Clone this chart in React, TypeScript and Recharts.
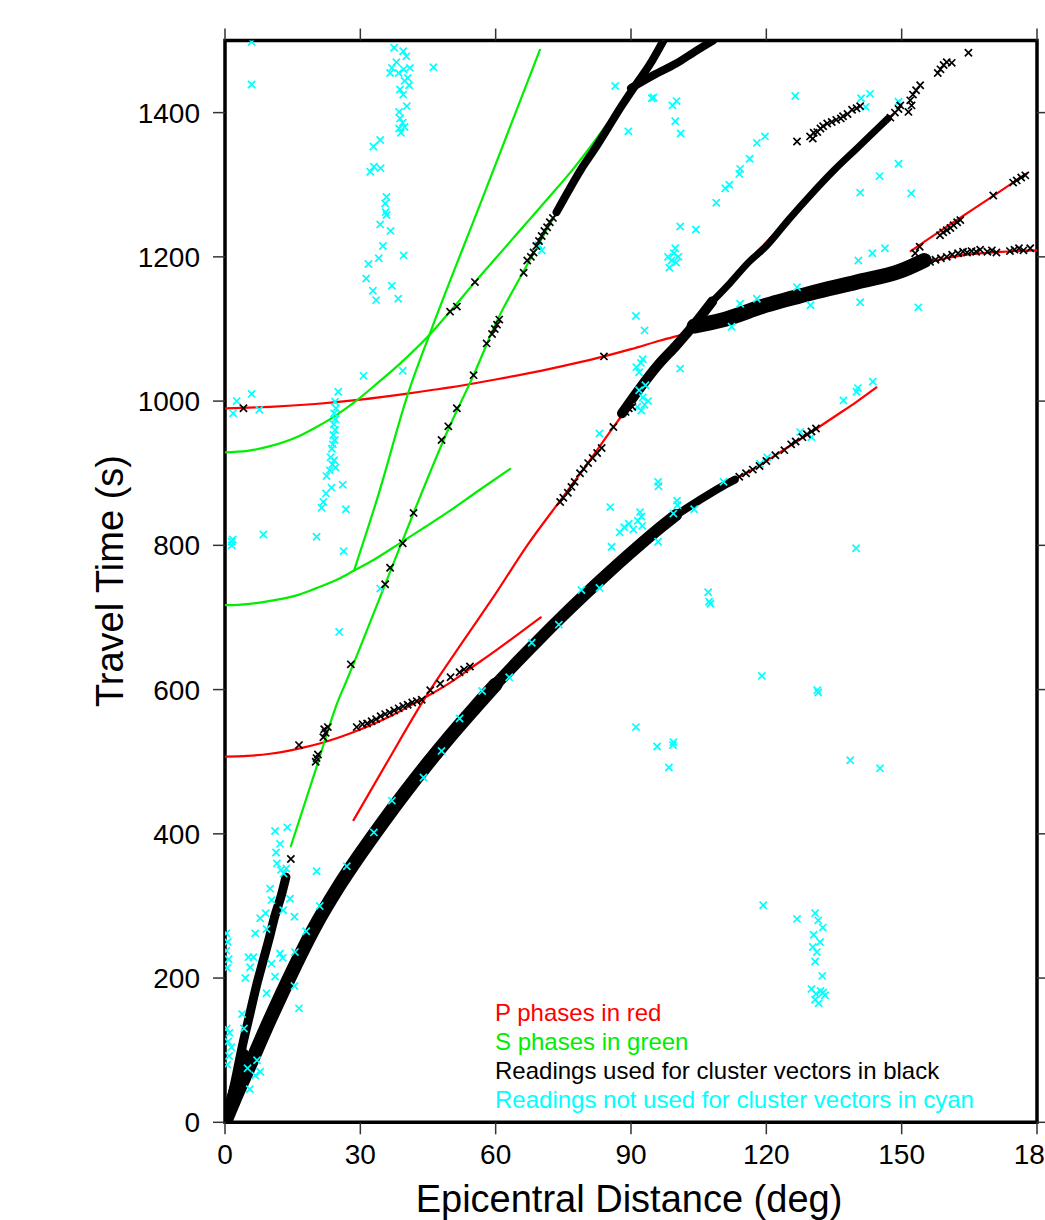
import React from 'react';
import { ComposedChart, XAxis, YAxis, Line, Scatter, ReferenceArea } from 'recharts';

// ---------- axis ticks ----------
const xMajor = [0, 30, 60, 90, 120, 150, 180];
const xMinor = [10, 20, 40, 50, 70, 80, 100, 110, 130, 140, 160, 170];
const yMajor = [0, 200, 400, 600, 800, 1000, 1200, 1400];
const yMinor = [100, 300, 500, 700, 900, 1100, 1300, 1500];

// ---------- P phases (red) ----------
const pDirect: [number, number][] = [[0,0],[10,143],[20,272],[30,372],[40,458],[50,536],[60,607],[70,672],[80,733],[90,790],[100,843],[110,881],[118,909],[125,937],[130,957],[135,978],[140,999],[144.4,1019]];
const pcp: [number, number][] = [[0,507],[5,508],[10,511],[16.6,518.5],[22,527],[27.7,539],[35,558],[43.2,585],[50,610],[55,632],[60,654],[65,677],[70,700]];
const pp: [number, number][] = [[28.5,419],[36,500],[44,585],[52,660],[60,733],[67,800],[74.3,862],[78.7,899],[86.1,964],[94,1030],[102.4,1094],[108.3,1140],[115,1187],[123,1240],[130,1287],[138,1340],[143,1370],[148.5,1400]];
const pkikp: [number, number][] = [[0,990],[10,992],[20,996],[30,1002],[40,1010],[45.5,1015],[50,1019],[60,1030],[70,1042],[78.7,1054],[84,1062],[90,1072],[96.5,1084],[102.4,1094],[110,1108],[120,1130],[130,1149],[140,1166],[150,1181],[156.3,1193],[164.4,1203],[172,1207],[180,1209]];
const pkpab: [number, number][] = [[152,1208],[154.1,1217],[161.5,1248],[170.4,1285],[177.8,1316]];

// ---------- S phases (green) ----------
const sDirect: [number, number][] = [[14.6,383],[20,487],[25.1,585],[27,613],[35.5,746],[42,848],[49.5,961],[55.1,1036],[60.2,1110],[66.1,1179],[75,1278],[83.9,1371],[90.5,1433],[97.2,1500]];
const scs: [number, number][] = [[0,929],[5,931],[10,937.5],[16.6,952],[20,963],[23.3,975],[29.2,1001],[34,1026],[38.8,1052],[45.5,1093],[50,1125],[55.4,1165],[60,1198],[66,1241],[72,1284],[77.2,1322],[84,1378],[90.5,1436]];
const sLow: [number, number][] = [[0,717],[5,718.5],[10,723],[16.6,732],[20,740],[25,753],[28.6,765],[33,780],[38.8,803],[44,824],[49.4,846],[56,875],[63.2,906]];
const sSteep: [number, number][] = [[28.6,765],[34,870],[40.6,1011],[45.5,1095],[57,1280],[69.8,1487]];

// ---------- dense bands of readings used (black) ----------
const bandP1: [number, number][] = [[0,0],[2,30],[5,72],[10,143],[15,210],[20,272],[25,325],[30,372],[35,416],[40,458],[45,498],[50,536],[55,572],[60,607]];
const bandP2: [number, number][] = [[60,607],[65,640],[70,672],[75,703],[80,733],[85,762],[90,790],[95,817],[100,842]];
const bandP3: [number, number][] = [[100,842],[105,862],[110,881],[113,891]];
const bandSnear: [number, number][] = [[0,0],[2,50],[4,110],[5.5,150],[7,190],[8.5,225],[10,260],[11,285],[12.5,315],[13.5,340]];
const bandWedge: [number, number][] = [[0,0],[1.5,35],[3,68],[4.2,95]];
const bandPP1: [number, number][] = [[88,983],[92,1018],[96,1050],[100,1077],[104,1106],[108,1138]];
const bandPP2: [number, number][] = [[108,1138],[112,1164],[116,1192],[120,1215],[125,1252],[130,1287],[135,1320],[140,1350],[145,1380],[147,1392]];
const bandPKIKP: [number, number][] = [[104,1104],[110,1112],[120,1133],[130,1150],[140,1165],[150,1181],[155,1195]];
const bandShigh: [number, number][] = [[73.5,1262],[76,1290],[79,1322],[82,1350],[85,1380],[88,1410],[91,1438],[94,1465],[97.2,1500]];
const bandSKS: [number, number][] = [[90,1434],[95,1452],[100,1468],[104,1484],[108.2,1500]];

// ---------- individual readings used (black) ----------
const blackPts: [number, number][] = [
  [4.1,990],[16.4,523],[20.3,505],[20.6,510],[20.1,500],[21.8,534],[22.3,540],[22.8,548],[22.0,545],[14.6,365],
  [27.9,635],[35.5,746],[36.6,769],[39.4,803],[41.8,845],[48,946],[49.5,965],[51.4,990],[55.1,1036],[58,1080],
  [59.2,1093],[59.8,1100],[60.3,1106],[60.8,1113],[66.2,1178],[67,1195],[67.8,1200],[68.4,1206],[69,1215],[69.6,1222],
  [70.2,1229],[70.8,1236],[71.4,1241],[72,1248],[72.7,1254],[49.9,1124],[51.4,1131],[55.4,1165],[84,1062],[86.1,964],[126.8,1360],
  [29.2,548],[30.5,552],[31.5,553],[32.5,556],[33.5,559],[34.5,563],[35.5,566],[36.5,568],[37.5,571],[38.5,574],
  [39.5,577],[40.5,579],[41.5,582],[42.5,584],[43.6,586],[45.5,599],[47.7,608],[50,617],[52,624],[53,628],[54.3,632],
  [74.3,860],[75,866],[76,873],[76.8,881],[77.5,888],[78.7,900],[79.5,906],[80.5,914],[81.5,921],[82.5,928],[83.5,935],
  [88.8,985],[89.5,990],[90.3,992],
  [114,895],[115.5,900],[117,905],[118.5,910],[120,917],[122,925],[124,932],[125.5,940],[126.5,944],[128,950],[129,954],[130,958],[131,962],
  [147.5,1393],[148.5,1400],[149.3,1405],[149.7,1410],[151.5,1401],[152.2,1410],[151.9,1417],[152.5,1425],[153.2,1431],[154.1,1438],
  [158,1455],[158.6,1460],[159.3,1466],[160,1470],[161.1,1469],[164.8,1483],
  [129.7,1367],[130.5,1372],[130.3,1364],[131.3,1373],[132,1378],[132.6,1381],[133.5,1385],[134.5,1387],[135.5,1390],
  [136.5,1392],[137,1395],[138,1398],[139,1404],[140,1406],[140.8,1409],
  [156.3,1193],[157.5,1196],[158.7,1198],[160,1200],[161.2,1203],[162.5,1205],[163.6,1207],[164.5,1206],[165.5,1208],
  [166.5,1207],[167.4,1210],[169,1207],[170,1209],[171,1206],[174,1208],[175,1210],[176,1212],[177,1209],[178.5,1212],
  [153,1205],[154,1214],[158.5,1230],[159.2,1234],[160,1237],[160.8,1240],[161.5,1244],[162.3,1248],[163,1251],
  [170.3,1285],[174.7,1303],[175.5,1306],[176.5,1310],[177.4,1313]
];

// ---------- readings not used (cyan) ----------
const cyanPts: [number, number][] = [
  [0.3,262],[0.6,250],[0.3,238],[0.8,226],[0.5,214],[0.4,130],[1.0,124],[0.7,112],[1.4,104],[0.9,92],[0.5,80],
  [11.1,404],[13.8,409],[12.2,386],[11.3,374],[11.5,359],[12.4,350],[13,345],[13.6,352],[20.3,348],[10,324],[14.4,310],
  [10.3,308],[12.9,294],[15.4,285],[7.8,283],[9,290],[6.7,262],[9.2,268],[6.3,229],[12.2,234],[12.8,228],[10.3,220],
  [11.1,202],[15.4,189],[9.2,179],[5.2,229],[5.6,215],[4.5,200],[16.4,158],[7.1,86],[6.7,65],[5.5,46],[5,75],[7.8,70],
  [3.8,150],[4.2,130],
  [25.1,1013],[24.4,999],[24.6,990],[24.2,983],[24.5,975],[24.1,968],[24.4,960],[24.0,953],[24.3,946],[23.9,940],
  [23.7,934],[23.4,922],[24.2,918],[23.8,912],[24.5,908],[23.2,904],[22.5,896],[23.6,880],[22.4,872],[21.8,860],
  [21.4,852],[26.1,884],[26.8,850],[20.3,812],[26.3,792],[8.5,815],[1.5,805],[1.5,800],[1.7,808],[2.6,1000],[1.8,983],
  [5.9,1010],[7.6,988],[30.7,1035],[39.4,1042],[25.3,680],[34.4,740],
  [5.9,1498],[5.9,1439],[37.5,1490],[39.5,1485],[40.2,1478],[38.0,1470],[37.0,1462],[36.6,1455],[38.5,1455],[39.6,1460],
  [41,1462],[40.5,1448],[39.8,1444],[38.8,1432],[40.8,1438],[39.5,1425],[38.6,1401],[40.3,1409],[38.8,1392],[39.4,1386],
  [38.6,1378],[39.8,1380],[39.0,1372],[34.4,1362],[32.9,1353],[32.2,1318],[33.0,1325],[34.5,1323],[35.5,1274],[35.8,1283],
  [35.8,1258],[46.2,1463],[31.3,1170],[32.8,1153],[33.5,1140],[34.1,1198],[39.6,1202],[38.4,1142],[35.0,1215],[36.7,1236],
  [34.4,1245],[35.6,1262],[31.8,1190],[37.0,1160],
  [86.5,1437],[89.4,1374],[94.6,1420],[95,1421],[100.1,1416],[99.2,1410],[99.8,1388],[101,1371],[126.4,1423],
  [98.5,1185],[99,1195],[99.5,1205],[100,1192],[100.5,1200],[99.8,1212],[98.2,1200],[100.9,1242],[104.4,1238],[91.1,1118],[93,1098],
  [108.9,1275],[110.9,1295],[111.8,1300],[114.2,1322],[114,1315],[116.3,1336],[117.9,1358],[119.7,1367],
  [149.3,1329],[145.1,1312],[140.8,1289],[152.1,1288],[146.3,1212],[143.5,1205],[140.4,1195],[149.3,1415],[141,1420],[143,1426],[142,1408],
  [70.2,1209],[69.5,1216],[91.8,1040],[92.2,1053],[91.2,1047],[92.6,1058],[91.4,992],[92.3,987],[93,995],[93.8,1000],[92.6,1005],[91.8,1015],[93.2,1022],
  [83,955],[100.9,1045],[112.3,1103],[114.2,1135],[129.8,1133],[140.8,1137],[153.7,1130],[117.9,1142],[126.8,1158],
  [85.7,798],[87.5,818],[88.5,825],[89.5,830],[90.5,822],[91.5,834],[92.5,827],[85.4,853],[92,846],[92.3,840],[100.2,862],
  [100.3,856],[99.4,844],[96,888],[96.1,882],[110.5,888],[118.6,913],[120.2,922],[127.5,957],[130,950],[137.1,1001],[140,1013],
  [140.3,1018],[143.6,1027],[139.9,796],
  [91.1,548],[95.8,521],[99.3,523],[99.4,527],[98.4,492],[119,619],[131.3,599],[131.5,596],[138.6,502],[145.2,491],
  [107.1,735],[107.3,722],[107.6,719],[119.3,301],[126.8,282],
  [130.8,290],[131.5,280],[132.5,270],[130.5,260],[131.9,250],[130.3,243],[131.2,236],[130.8,223],[132.4,203],[130,185],
  [131,178],[132,182],[133,176],[130.8,170],[131.6,165],[132.6,180],
  [15.5,236],[21,300],[27,355],[33,402],[44,478],[52,560],[63,617],[68,665],[74,690],[79,738],[83,741],[96,805],[104,850],
  [57,598],[48,515],[37,446],[18,265]
];

// ---------- legend lines ----------
const legendLines = [
  { text: 'P phases in red', color: '#ff0000' },
  { text: 'S phases in green', color: '#00ee00' },
  { text: 'Readings used for cluster vectors in black', color: '#000000' },
  { text: 'Readings not used for cluster vectors in cyan', color: '#00ffff' },
];

const toXY = (arr: [number, number][]) => arr.map(([x, y]) => ({ x, y }));

const RED = '#ff0000';
const GREEN = '#00ee00';
const CYAN = '#00ffff';
const FONT = '"Liberation Sans", Arial, Helvetica, sans-serif';

const W = 1100;
const H = 1220;
const AX_L = 100, AX_R = 20, AX_T = 20, AX_B = 60;
const PLOT_L = 225, PLOT_R = 1037, PLOT_T = 40.5, PLOT_B = 1122.3;
const margin = { left: PLOT_L - AX_L, right: W - PLOT_R - AX_R, top: PLOT_T - AX_T, bottom: H - PLOT_B - AX_B };

const makeX = (color: string, r: number, sw: number) => (props: any) => {
  const { cx, cy } = props;
  if (cx == null || cy == null || isNaN(cx) || isNaN(cy)) return <g />;
  return (
    <path
      d={`M${cx - r},${cy - r}L${cx + r},${cy + r}M${cx - r},${cy + r}L${cx + r},${cy - r}`}
      stroke={color}
      strokeWidth={sw}
      fill="none"
    />
  );
};
const blackX = makeX('#000', 3.6, 1.7);
const cyanX = makeX(CYAN, 3.6, 1.7);

const empty = () => '';
const tickStyle = { fill: '#000', fontSize: 28, fontFamily: FONT };
const tlStroke = { stroke: '#333', strokeWidth: 1.5 };

const curve = (data: [number, number][], color: string, key: string, sw = 2.2) => (
  <Line
    key={key}
    xAxisId="main"
    yAxisId="main"
    data={toXY(data)}
    dataKey="y"
    type="monotone"
    stroke={color}
    strokeWidth={sw}
    dot={false}
    activeDot={false}
    isAnimationActive={false}
    strokeLinecap="round"
    strokeLinejoin="round"
  />
);

export default function App() {
  return (
    <div style={{ position: 'absolute', left: 0, top: 0, width: 1045, height: 1220, overflow: 'hidden', background: '#fff' }}>
      <ComposedChart width={W} height={H} margin={margin}>
        <XAxis xAxisId="minB" orientation="bottom" type="number" dataKey="x" domain={[0, 180]} ticks={xMinor} interval={0}
          height={0} tickSize={6} axisLine={false} tickLine={tlStroke} tickFormatter={empty} allowDataOverflow />
        <XAxis xAxisId="minT" orientation="top" type="number" dataKey="x" domain={[0, 180]} ticks={xMinor} interval={0}
          height={0} tickSize={6} axisLine={false} tickLine={tlStroke} tickFormatter={empty} allowDataOverflow />
        <YAxis yAxisId="minL" orientation="left" type="number" domain={[0, 1500]} ticks={yMinor} interval={0}
          width={0} tickSize={6} axisLine={false} tickLine={tlStroke} tickFormatter={empty} allowDataOverflow />
        <YAxis yAxisId="minR" orientation="right" type="number" domain={[0, 1500]} ticks={yMinor} interval={0}
          width={0} tickSize={6} axisLine={false} tickLine={tlStroke} tickFormatter={empty} allowDataOverflow />
        <XAxis xAxisId="main" orientation="bottom" type="number" dataKey="x" domain={[0, 180]} ticks={xMajor} interval={0}
          height={AX_B} tickSize={12} tickMargin={10} axisLine={false} tickLine={tlStroke} tick={tickStyle} allowDataOverflow />
        <XAxis xAxisId="top" orientation="top" type="number" dataKey="x" domain={[0, 180]} ticks={xMajor} interval={0}
          height={AX_T} tickSize={12} axisLine={false} tickLine={tlStroke} tickFormatter={empty} allowDataOverflow />
        <YAxis yAxisId="main" orientation="left" type="number" dataKey="y" domain={[0, 1500]} ticks={yMajor} interval={0}
          width={AX_L} tickSize={12} tickMargin={13} axisLine={false} tickLine={tlStroke} tick={tickStyle} allowDataOverflow />
        <YAxis yAxisId="right" orientation="right" type="number" domain={[0, 1500]} ticks={yMajor} interval={0}
          width={AX_R} tickSize={12} axisLine={false} tickLine={tlStroke} tickFormatter={empty} allowDataOverflow />

        {curve(pDirect, RED, 'p')}
        {curve(pcp, RED, 'pcp')}
        {curve(pp, RED, 'pp')}
        {curve(pkikp, RED, 'pkikp')}
        {curve(pkpab, RED, 'pkpab')}
        {curve(sDirect, GREEN, 's')}
        {curve(scs, GREEN, 'scs')}
        {curve(sLow, GREEN, 'slow')}
        {curve(sSteep, GREEN, 'ssteep')}

        <Scatter xAxisId="main" yAxisId="main" data={toXY(cyanPts)} dataKey="y" shape={cyanX} isAnimationActive={false} />

        {curve(bandP1, '#000', 'b1', 14)}
        {curve(bandP2, '#000', 'b2', 12)}
        {curve(bandP3, '#000', 'b3', 8)}
        {curve(bandSnear, '#000', 'b4', 9)}
        {curve(bandWedge, '#000', 'bw', 10)}
        {curve(bandPP1, '#000', 'b5', 10)}
        {curve(bandPP2, '#000', 'b6', 7)}
        {curve(bandPKIKP, '#000', 'b7', 15)}
        {curve(bandShigh, '#000', 'b8', 8)}
        {curve(bandSKS, '#000', 'b9', 8)}

        <Scatter xAxisId="main" yAxisId="main" data={toXY(blackPts)} dataKey="y" shape={blackX} isAnimationActive={false} />

        <ReferenceArea xAxisId="main" yAxisId="main" x1={0} x2={180} y1={0} y2={1500} fill="none" stroke="#000" strokeWidth={3.5} ifOverflow="visible" />
      </ComposedChart>

      <div style={{ position: 'absolute', left: 629, top: 1180, transform: 'translateX(-50%)', fontFamily: FONT, fontSize: 38, lineHeight: '38px', whiteSpace: 'nowrap', color: '#000' }}>
        Epicentral Distance (deg)
      </div>
      <div style={{ position: 'absolute', left: 110, top: 581, transform: 'translate(-50%, -50%) rotate(-90deg)', fontFamily: FONT, fontSize: 38, lineHeight: '38px', whiteSpace: 'nowrap', color: '#000' }}>
        Travel Time (s)
      </div>

      {legendLines.map((l, i) => (
        <div key={i} style={{ position: 'absolute', left: 495, top: 1001.4 + i * 28.7, fontFamily: FONT, fontSize: 24, lineHeight: '24px', whiteSpace: 'nowrap', color: l.color }}>
          {l.text}
        </div>
      ))}
    </div>
  );
}
